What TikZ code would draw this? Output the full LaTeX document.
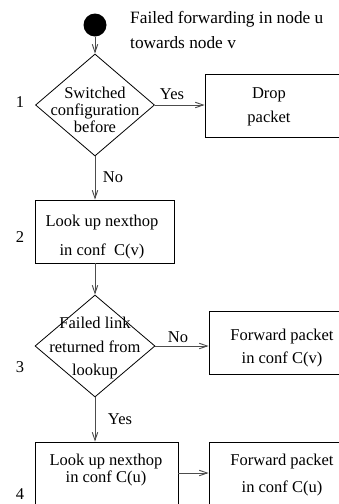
\documentclass[tikz,border=0pt]{standalone}
\usepackage{fontspec}
\setmainfont{Liberation Serif}
\usetikzlibrary{shapes.geometric,arrows.meta}
\begin{document}
\begin{tikzpicture}[x=1pt, y=-1pt,
		every node/.style={inner sep=0pt, font=\fontsize{16.5}{17}\selectfont, align=center},
		box/.style={draw, line width=0.8pt},
		choice/.style={draw, diamond, line width=0.8pt},
		flow/.style={draw=black!70, line width=0.9pt, -{Straight Barb[length=8pt,width=5.5pt]}}]
			\useasboundingbox (0,0) rectangle (339,504);
			\clip (0,0) rectangle (339,504);
			% shapes
			\node[circle, fill=black, minimum size=23pt] (start) at (95,25) [] {};
			\node[choice, minimum width=119pt, minimum height=102pt] (d1) at (95,105) [] {};
			\node[box, minimum width=136pt, minimum height=63pt] (drop) at (273,105.5) [] {};
			\node[box, minimum width=139pt, minimum height=63pt] (b2) at (104.5,231.5) [] {};
			\node[choice, minimum width=120pt, minimum height=102pt] (d3) at (95,346) [] {};
			\node[box, minimum width=146pt, minimum height=63pt] (b3) at (282,342.5) [] {};
			\node[box, minimum width=143pt, minimum height=78pt] (b4) at (106.5,481) [] {};
			\node[box, minimum width=146pt, minimum height=78pt] (b5) at (282,481) [] {};
			% texts
			\node[anchor=west, align=left, font=\fontsize{17.3}{18}\selectfont] (note) at (130,30) [] {Failed forwarding in node u\\[7pt]towards node v};
			\node (d1t) at (95,110) [] {Switched\\configuration\\before};
			\node (dropt) at (269,107) [] {Drop\\[7pt]packet};
			\node (b2t) at (102,237.5) [] {Look up nexthop\\[12pt]in conf~ C(v)};
			\node (d3t) at (95,348) [] {Failed link\\[7pt]returned from\\[6pt]lookup};
			\node (b3t) at (282,348) [] {Forward packet\\[6pt]in conf C(v)};
			\node (b4t) at (106,470.5) [] {Look up nexthop\\in conf C(u)};
			\node (b5t) at (282,475.5) [] {Forward packet\\[10pt]in conf C(u)};
			\node (one) at (20,102) [] {1};
			\node (two) at (20,237) [] {2};
			\node (three) at (20,367) [] {3};
			\node (four) at (20,494) [] {4};
			\node (yes1) at (172,94) [] {Yes};
			\node (no1) at (113,177) [] {No};
			\node (no3) at (178,337) [] {No};
			\node (yes3) at (120,419) [] {Yes};
			% connectors
			\draw[flow] (start) -- (d1.north);
			\draw[flow] (d1.east) -- (d1.east -| drop.west);
			\draw[flow] (d1.south) -- (d1.south |- b2.north);
			\draw[flow] (d3.north |- b2.south) -- (d3.north);
			\draw[flow] (d3.east) -- (d3.east -| b3.west);
			\draw[flow] (d3.south) -- (d3.south |- b4.north);
			\draw[flow] ([yshift=8pt]b4.east) -- ([yshift=8pt]b5.west);
\end{tikzpicture}
\end{document}
